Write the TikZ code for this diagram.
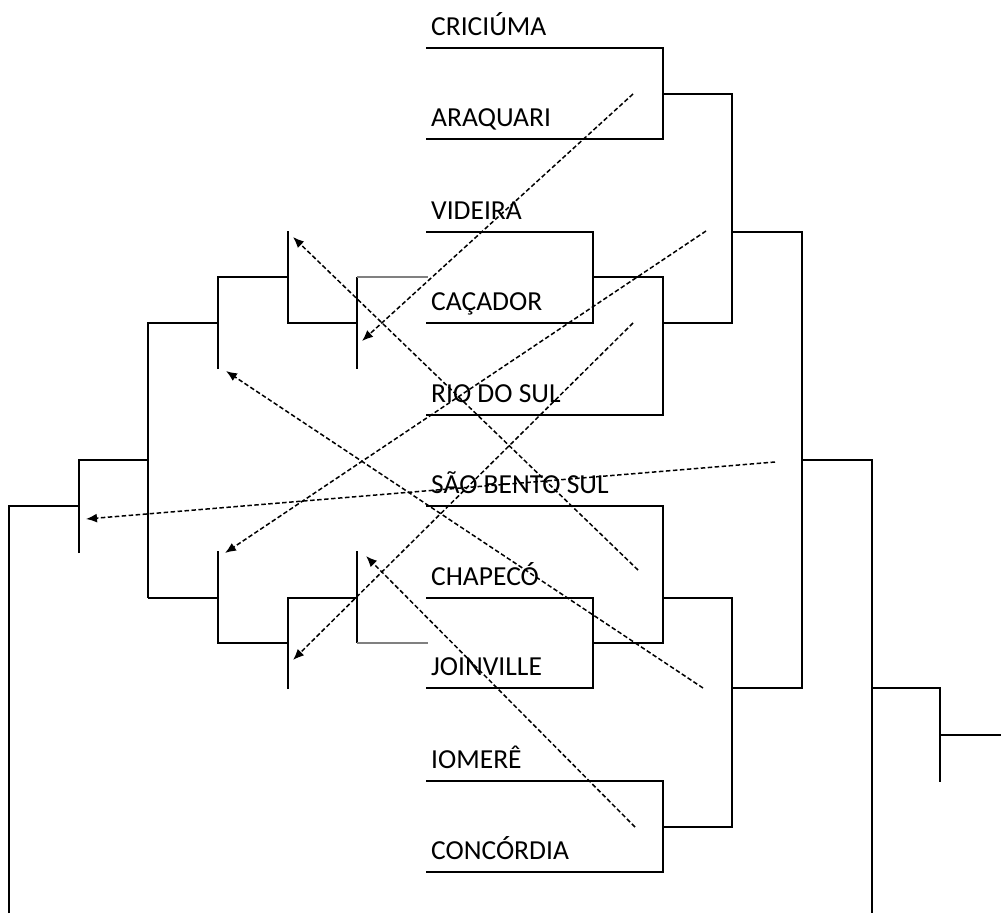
\documentclass[tikz,border=0pt]{standalone}
\usepackage{fontspec}
\setmainfont{Carlito}
\usepackage{tikz}
\usetikzlibrary{arrows.meta}

\tikzset{
  bracket/.style={line width=1.8pt},
  team/.style={anchor=base west,inner sep=0pt,font=\fontsize{27.5}{32}\selectfont},
  pass/.style={line width=1.5pt,dash pattern=on 4.5pt off 2.5pt,-{Latex[length=11pt,width=9pt]}}
}

\begin{document}
\begin{tikzpicture}[x=1pt,y=-1pt]
\useasboundingbox (0,0) rectangle (1001,913);

\node[team] (cri) at (431,35) {CRICIÚMA};
\node[team] (ara) at (431,126) {ARAQUARI};
\node[team] (vid) at (431,219) {VIDEIRA};
\node[team] (cac) at (431,310) {CAÇADOR};
\node[team] (rio) at (431,402) {RIO DO SUL};
\node[team] (sbs) at (431,493) {SÃO BENTO SUL};
\node[team] (cha) at (431,585) {CHAPECÓ};
\node[team] (joi) at (431,675) {JOINVILLE};
\node[team] (iom) at (431,768) {IOMERÊ};
\node[team] (con) at (431,859) {CONCÓRDIA};

\draw[bracket] (426,48) -| (663,139) -- (426,139);
\draw[bracket] (663,94) -| (732,323) -- (663,323);
\draw[bracket] (426,232) -| (593,323) -- (426,323);
\draw[bracket] (593,277) -| (663,415) -- (426,415);
\draw[bracket] (732,232) -| (802,688) -- (732,688);
\draw[bracket] (802,460) -| (872,913);
\draw[bracket] (426,506) -| (663,643) -- (593,643);
\draw[bracket] (426,598) -| (593,688) -- (426,688);
\draw[bracket] (663,598) -| (732,827) -- (663,827);
\draw[bracket] (426,781) -| (663,872) -- (426,872);
\draw[bracket] (872,688) -| (940,782);
\draw[bracket] (940,735) -- (1001,735);

\draw[bracket] (218,369) |- (288,277);
\draw[bracket] (288,231) |- (357,323);
\draw[bracket] (357,277) -- (357,369);
\draw[bracket,gray] (357,277) -- (428,277);
\draw[bracket] (148,598) |- (218,323);
\draw[bracket] (148,598) -- (218,598);
\draw[bracket] (218,551) |- (288,643);
\draw[bracket] (288,689) |- (357,598);
\draw[bracket] (357,551) -- (357,643);
\draw[bracket,gray] (357,643) -- (428,643);
\draw[bracket] (79,553) |- (148,460);
\draw[bracket] (9,913) |- (79,506);

\coordinate (a1) at (633,94);   \coordinate (b1) at (362,341);
\coordinate (a2) at (706,231);  \coordinate (b2) at (225,553);
\coordinate (a3) at (633,323);  \coordinate (b3) at (293,660);
\coordinate (a4) at (775,462);  \coordinate (b4) at (86,519);
\coordinate (a5) at (638,570);  \coordinate (b5) at (293,237);
\coordinate (a6) at (703,688);  \coordinate (b6) at (226,371);
\coordinate (a7) at (635,827);  \coordinate (b7) at (366,556);

\draw[pass] (a1) -- (b1);
\draw[pass] (a2) -- (b2);
\draw[pass] (a3) -- (b3);
\draw[pass] (a4) -- (b4);
\draw[pass] (a5) -- (b5);
\draw[pass] (a6) -- (b6);
\draw[pass] (a7) -- (b7);
\end{tikzpicture}
\end{document}
